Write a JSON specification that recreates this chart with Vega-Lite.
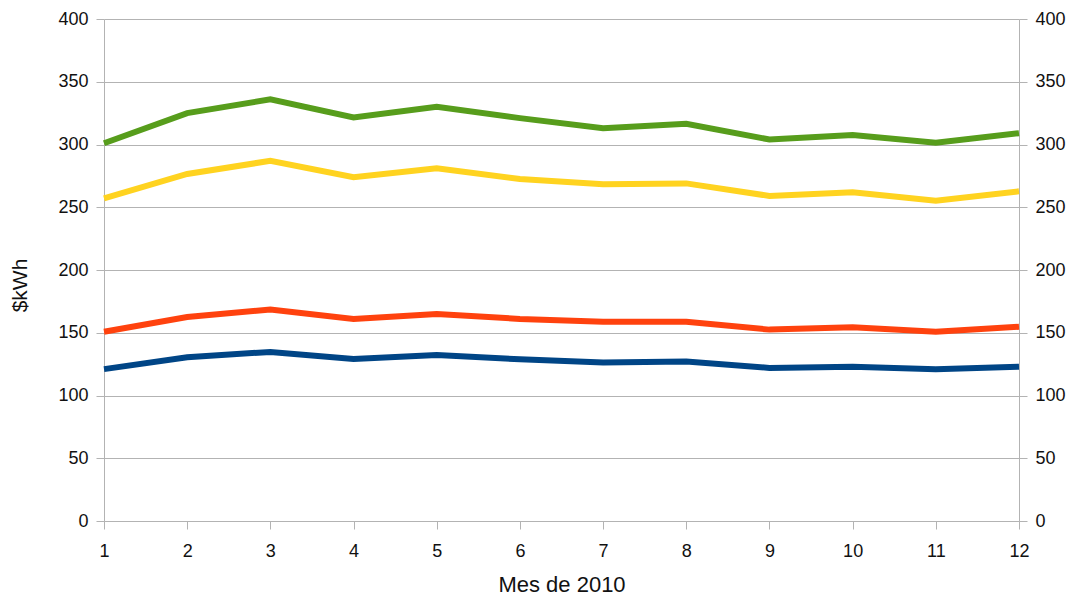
{
  "$schema": "https://vega.github.io/schema/vega-lite/v6.json",
  "width": 915,
  "height": 502,
  "autosize": {"type": "none"},
  "padding": {"left": 104, "top": 19, "right": 53, "bottom": 76},
  "background": "white",
  "config": {
    "view": {"stroke": null},
    "axis": {
      "labelFont": "Liberation Sans",
      "titleFont": "Liberation Sans",
      "labelFontSize": 18,
      "titleFontSize": 21,
      "labelColor": "#111111",
      "titleColor": "#111111",
      "titleFontWeight": "normal",
      "domainColor": "#b3b3b3",
      "tickColor": "#b3b3b3",
      "gridColor": "#b3b3b3",
      "tickSize": 8
    }
  },
  "data": {
    "values": [
      {"mes": 1, "serie": "A", "valor": 301},
      {"mes": 2, "serie": "A", "valor": 325},
      {"mes": 3, "serie": "A", "valor": 336},
      {"mes": 4, "serie": "A", "valor": 321.5},
      {"mes": 5, "serie": "A", "valor": 330},
      {"mes": 6, "serie": "A", "valor": 321},
      {"mes": 7, "serie": "A", "valor": 313},
      {"mes": 8, "serie": "A", "valor": 316.5},
      {"mes": 9, "serie": "A", "valor": 304},
      {"mes": 10, "serie": "A", "valor": 307.5},
      {"mes": 11, "serie": "A", "valor": 301.5},
      {"mes": 12, "serie": "A", "valor": 309},
      {"mes": 1, "serie": "B", "valor": 257},
      {"mes": 2, "serie": "B", "valor": 276.5},
      {"mes": 3, "serie": "B", "valor": 287},
      {"mes": 4, "serie": "B", "valor": 274},
      {"mes": 5, "serie": "B", "valor": 281},
      {"mes": 6, "serie": "B", "valor": 272.5},
      {"mes": 7, "serie": "B", "valor": 268.3},
      {"mes": 8, "serie": "B", "valor": 269},
      {"mes": 9, "serie": "B", "valor": 259},
      {"mes": 10, "serie": "B", "valor": 262},
      {"mes": 11, "serie": "B", "valor": 255.2},
      {"mes": 12, "serie": "B", "valor": 262.7},
      {"mes": 1, "serie": "C", "valor": 150.8},
      {"mes": 2, "serie": "C", "valor": 162.5},
      {"mes": 3, "serie": "C", "valor": 168.5},
      {"mes": 4, "serie": "C", "valor": 161},
      {"mes": 5, "serie": "C", "valor": 165},
      {"mes": 6, "serie": "C", "valor": 161},
      {"mes": 7, "serie": "C", "valor": 158.8},
      {"mes": 8, "serie": "C", "valor": 158.8},
      {"mes": 9, "serie": "C", "valor": 152.5},
      {"mes": 10, "serie": "C", "valor": 154.3},
      {"mes": 11, "serie": "C", "valor": 150.8},
      {"mes": 12, "serie": "C", "valor": 154.8},
      {"mes": 1, "serie": "D", "valor": 121},
      {"mes": 2, "serie": "D", "valor": 130.5},
      {"mes": 3, "serie": "D", "valor": 134.7},
      {"mes": 4, "serie": "D", "valor": 129},
      {"mes": 5, "serie": "D", "valor": 132.3},
      {"mes": 6, "serie": "D", "valor": 128.8},
      {"mes": 7, "serie": "D", "valor": 126.2},
      {"mes": 8, "serie": "D", "valor": 127},
      {"mes": 9, "serie": "D", "valor": 122},
      {"mes": 10, "serie": "D", "valor": 123},
      {"mes": 11, "serie": "D", "valor": 121},
      {"mes": 12, "serie": "D", "valor": 123}
    ]
  },
  "layer": [
    {
      "mark": {"type": "line", "strokeWidth": 6, "strokeCap": "butt"},
      "encoding": {
        "x": {
          "field": "mes",
          "type": "quantitative",
          "scale": {"domain": [1, 12], "nice": false, "zero": false},
          "axis": {
            "values": [1, 2, 3, 4, 5, 6, 7, 8, 9, 10, 11, 12],
            "format": "d",
            "labelFlush": false,
            "title": "Mes de 2010",
            "grid": false,
            "labelPadding": 13,
            "titlePadding": 14,
            "labelFontSize": 18,
            "titleFontSize": 22
          }
        },
        "y": {
          "field": "valor",
          "type": "quantitative",
          "scale": {"domain": [0, 400], "nice": false},
          "axis": {
            "values": [0, 50, 100, 150, 200, 250, 300, 350, 400],
            "title": "$kWh",
            "grid": true,
            "labelPadding": 8,
            "titlePadding": 27,
            "titleY": 266
          }
        },
        "color": {
          "field": "serie",
          "type": "nominal",
          "scale": {"domain": ["A", "B", "C", "D"], "range": ["#579d1c", "#ffd320", "#ff420e", "#004586"]},
          "legend": null
        }
      }
    },
    {
      "mark": {"type": "line", "opacity": 0},
      "encoding": {
        "x": {"field": "mes", "type": "quantitative"},
        "y": {
          "field": "valor",
          "type": "quantitative",
          "scale": {"domain": [0, 400], "nice": false},
          "axis": {
            "orient": "right",
            "values": [0, 50, 100, 150, 200, 250, 300, 350, 400],
            "title": null,
            "grid": false,
            "labelPadding": 8
          }
        },
        "detail": {"field": "serie"}
      }
    }
  ],
  "resolve": {"scale": {"y": "independent"}}
}
